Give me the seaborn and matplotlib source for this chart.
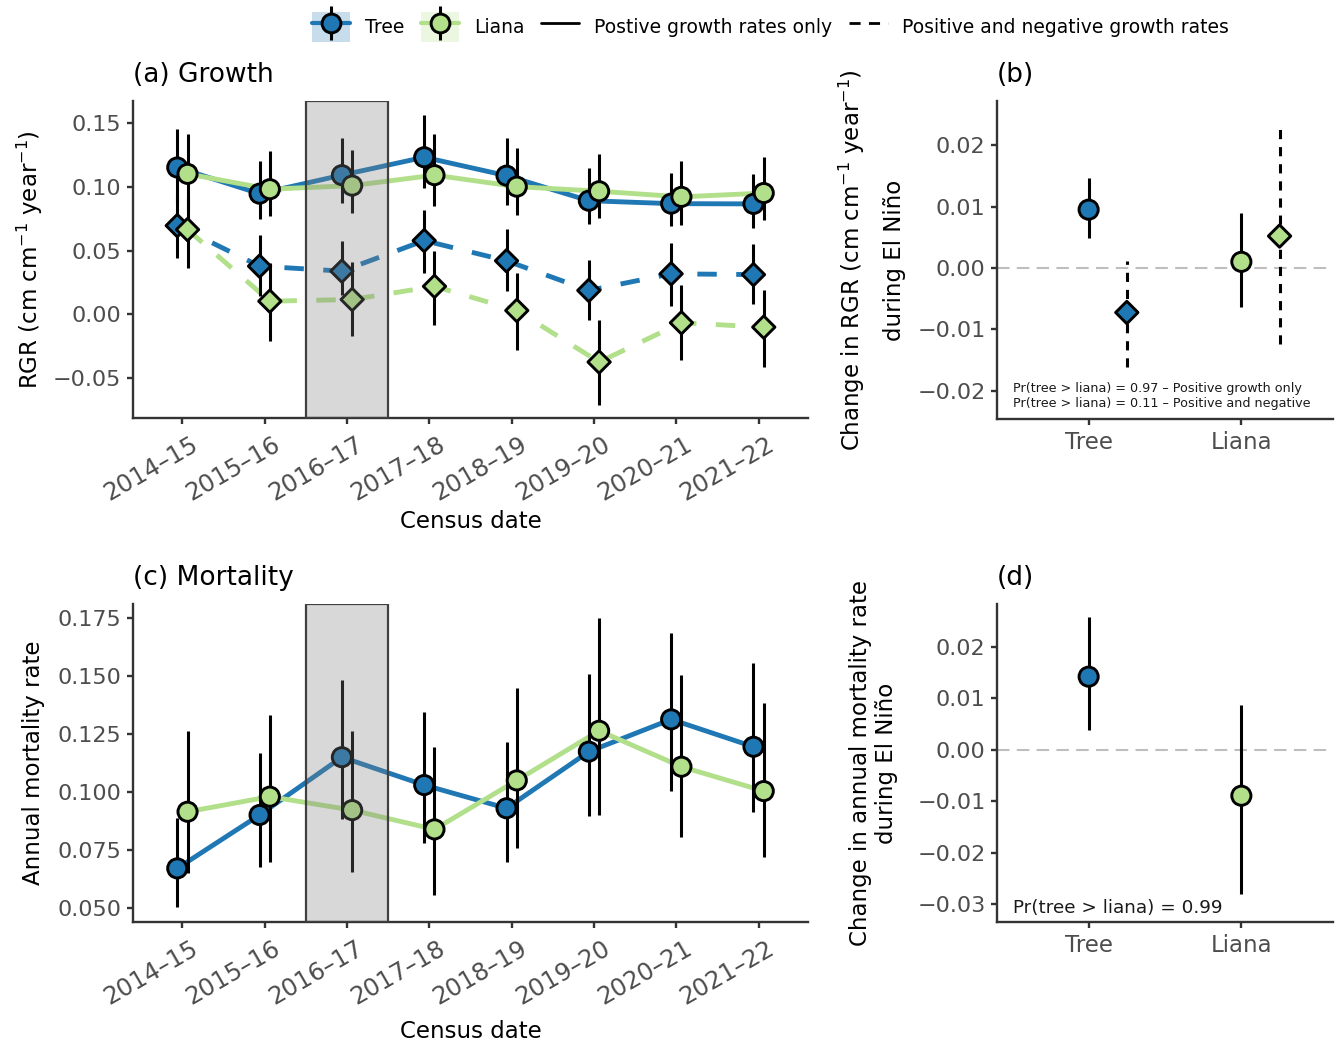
import numpy as np
import pandas as pd
import seaborn as sns
import matplotlib.pyplot as plt
from matplotlib.lines import Line2D
from matplotlib.patches import Patch
from matplotlib.legend_handler import HandlerTuple
from matplotlib.transforms import ScaledTranslation

census = ["2014–15", "2015–16", "2016–17", "2017–18", "2018–19", "2019–20", "2020–21", "2021–22"]
el_nino = "2016–17"
forms = ["Tree", "Liana"]

# (a) growth - positive growth rates only
tree_pos = [0.115, 0.0945, 0.109, 0.123, 0.1086, 0.089, 0.0867, 0.0865]
tree_pos_lo = [0.088, 0.075, 0.087, 0.099, 0.086, 0.071, 0.069, 0.068]
tree_pos_hi = [0.145, 0.120, 0.138, 0.156, 0.138, 0.1146, 0.111, 0.110]
liana_pos = [0.110, 0.098, 0.1008, 0.109, 0.100, 0.0964, 0.092, 0.095]
liana_pos_lo = [0.082, 0.077, 0.079, 0.085, 0.078, 0.0755, 0.070, 0.0737]
liana_pos_hi = [0.141, 0.128, 0.129, 0.141, 0.130, 0.1255, 0.120, 0.123]
# positive and negative growth rates
tree_all = [0.0695, 0.0378, 0.0339, 0.0578, 0.042, 0.0188, 0.0318, 0.0312]
tree_all_lo = [0.044, 0.0143, 0.0156, 0.0326, 0.018, -0.0044, 0.007, 0.0078]
tree_all_hi = [0.094, 0.0625, 0.0573, 0.082, 0.067, 0.043, 0.056, 0.0555]
liana_all = [0.0664, 0.0104, 0.0117, 0.022, 0.0031, -0.0372, -0.0065, -0.0099]
liana_all_lo = [0.0365, -0.0208, -0.017, -0.0083, -0.028, -0.0708, -0.0357, -0.0409]
liana_all_hi = [0.092, 0.040, 0.041, 0.050, 0.0326, -0.0044, 0.0234, 0.0195]

# (c) mortality
tree_mort = [0.0671, 0.0901, 0.115, 0.103, 0.093, 0.1174, 0.1313, 0.1195]
tree_mort_lo = [0.0503, 0.0675, 0.0882, 0.0779, 0.070, 0.0898, 0.1006, 0.0912]
tree_mort_hi = [0.0889, 0.117, 0.1483, 0.1346, 0.1217, 0.151, 0.1684, 0.1555]
liana_mort = [0.0915, 0.098, 0.0922, 0.0839, 0.105, 0.1264, 0.1109, 0.1004]
liana_mort_lo = [0.065, 0.070, 0.0657, 0.0556, 0.0757, 0.0901, 0.0805, 0.0721]
liana_mort_hi = [0.1264, 0.133, 0.1264, 0.1195, 0.1447, 0.1749, 0.1504, 0.1385]

# (b) change in RGR during El Nino
rgr_chg_pos = [0.0095, 0.0010]
rgr_chg_pos_lo = [0.0049, -0.0064]
rgr_chg_pos_hi = [0.0147, 0.0090]
rgr_chg_all = [-0.00725, 0.0052]
rgr_chg_all_lo = [-0.0161, -0.0124]
rgr_chg_all_hi = [0.0012, 0.0226]

# (d) change in mortality during El Nino
mort_chg = [0.0142, -0.0089]
mort_chg_lo = [0.0038, -0.0279]
mort_chg_hi = [0.0257, 0.0088]

pal = {"Tree": "#1F78B4", "Liana": "#B2DF8A"}
key_bg = {"Tree": "#C7DDEC", "Liana": "#ECF7E2"}
dodge = {"Tree": -0.0625, "Liana": 0.0625}
axc = "#333333"
tickc = "#4D4D4D"

sns.set_theme(style="ticks")
plt.rcParams["font.family"] = ["DejaVu Sans"]
plt.rcParams["mathtext.fontset"] = "dejavusans"
plt.rcParams["text.color"] = "black"

def series(vals, lo, hi, form, rates):
    idx = np.arange(len(census))
    return pd.DataFrame({"census": census, "form": form, "rates": rates,
                         "value": vals, "lo": lo, "hi": hi,
                         "x": idx + dodge[form]})

growth = pd.concat([
    series(tree_pos, tree_pos_lo, tree_pos_hi, "Tree", "pos"),
    series(liana_pos, liana_pos_lo, liana_pos_hi, "Liana", "pos"),
    series(tree_all, tree_all_lo, tree_all_hi, "Tree", "all"),
    series(liana_all, liana_all_lo, liana_all_hi, "Liana", "all"),
], ignore_index=True)
mort = pd.concat([
    series(tree_mort, tree_mort_lo, tree_mort_hi, "Tree", "pos"),
    series(liana_mort, liana_mort_lo, liana_mort_hi, "Liana", "pos"),
], ignore_index=True)

chg_rgr = pd.DataFrame({
    "form": forms * 2,
    "rates": ["pos", "pos", "all", "all"],
    "value": rgr_chg_pos + rgr_chg_all,
    "lo": rgr_chg_pos_lo + rgr_chg_all_lo,
    "hi": rgr_chg_pos_hi + rgr_chg_all_hi,
})
chg_rgr["x"] = [forms.index(f) + (0.25 if r == "all" else 0) for f, r in zip(chg_rgr.form, chg_rgr.rates)]
chg_mort = pd.DataFrame({"form": forms, "value": mort_chg, "lo": mort_chg_lo,
                         "hi": mort_chg_hi, "x": [0, 1]})

fig = plt.figure(figsize=(13.41, 10.44), dpi=100)
W, H = 1341, 1044
def add_ax(l, t, r, b):
    return fig.add_axes([l / W, 1 - b / H, (r - l) / W, (b - t) / H])

ax_a = add_ax(133, 101, 808, 418)
ax_b = add_ax(997, 101, 1333, 419)
ax_c = add_ax(133, 604, 808, 922)
ax_d = add_ax(997, 604, 1333, 922)

def style_ax(ax):
    sns.despine(ax=ax)
    for s in ["left", "bottom"]:
        ax.spines[s].set_color(axc)
        ax.spines[s].set_linewidth(1.7)
    ax.tick_params(colors=axc, labelcolor=tickc, width=1.7, length=4.3,
                   labelsize=16, pad=4)
    ax.grid(False)

def fmt(v, nd):
    return f"{v:.{nd}f}".replace("-", "−")

def time_panel(ax, df, ticks, nd, ylim, ylabel, title, xlab_y):
    sns.lineplot(data=df, x="x", y="value", hue="form", style="rates",
                 hue_order=forms, style_order=["pos", "all"], palette=pal,
                 dashes={"pos": "", "all": (4, 4)}, lw=3.5, estimator=None,
                 errorbar=None, sort=True, legend=False, ax=ax, zorder=2)
    ax.vlines(df.x, df.lo, df.hi, color="black", lw=2.2, zorder=3)
    pos = df[df.rates == "pos"]
    sns.scatterplot(data=pos, x="x", y="value", hue="form", palette=pal,
                    marker="o", s=190, edgecolor="black", linewidth=2.1,
                    legend=False, ax=ax, zorder=4)
    neg = df[df.rates == "all"]
    if len(neg):
        sns.scatterplot(data=neg, x="x", y="value", hue="form", palette=pal,
                        marker="D", s=130, edgecolor="black", linewidth=2.1,
                        legend=False, ax=ax, zorder=4)
    i = census.index(el_nino)
    ax.axvspan(i - 0.5, i + 0.5, facecolor=(0.5, 0.5, 0.5, 0.3),
               edgecolor="#404040", lw=1.6, zorder=6)
    ax.set_xlim(-0.6, len(census) - 0.4)
    ax.set_ylim(*ylim)
    ax.set_xticks(range(len(census)))
    ax.set_xticklabels(census, rotation=30, ha="right", va="top",
                       rotation_mode="anchor")
    ax.set_yticks(ticks)
    ax.set_yticklabels([fmt(v, nd) for v in ticks])
    style_ax(ax)
    ax.tick_params(axis="x", pad=6, labelsize=17.5)
    shift = ScaledTranslation(0.08, 0, fig.dpi_scale_trans)
    for lab in ax.get_xticklabels():
        lab.set_transform(lab.get_transform() + shift)
    ax.set_xlabel("Census date", fontsize=16.5, color="black")
    ax.xaxis.set_label_coords(0.5, xlab_y)
    ax.set_ylabel(ylabel, fontsize=16.5, color="black")
    ax.yaxis.set_label_coords(-0.13, 0.5)
    ax.set_title(title, loc="left", fontsize=19, pad=13.7, color="black")

time_panel(ax_a, growth, [-0.05, 0.0, 0.05, 0.10, 0.15], 2, (-0.081, 0.167),
           "RGR (cm cm$^{-1}$ year$^{-1}$)", "(a) Growth", -0.29)
time_panel(ax_c, mort, [0.050, 0.075, 0.100, 0.125, 0.150, 0.175], 3, (0.044, 0.181),
           "Annual mortality rate", "(c) Mortality", -0.307)

# (b)
ax = ax_b
ax.axhline(0, color="#BEBEBE", lw=1.5, ls=(0, (6, 3.5)), zorder=1)
p = chg_rgr[chg_rgr.rates == "pos"]
a = chg_rgr[chg_rgr.rates == "all"]
ax.vlines(p.x, p.lo, p.hi, color="black", lw=2.2, zorder=3)
ax.vlines(a.x, a.lo, a.hi, color="black", lw=2.2, linestyles=[(0, (3, 2.6))], zorder=3)
sns.scatterplot(data=p, x="x", y="value", hue="form", palette=pal, marker="o",
                s=190, edgecolor="black", linewidth=2.1, legend=False, ax=ax, zorder=4)
sns.scatterplot(data=a, x="x", y="value", hue="form", palette=pal, marker="D",
                s=130, edgecolor="black", linewidth=2.1, legend=False, ax=ax, zorder=4)
ax.set_xlim(-0.6, 1.6)
ax.set_ylim(-0.0246, 0.0272)
ax.set_xticks(range(len(forms)))
ax.set_xticklabels(forms)
ticks = [-0.02, -0.01, 0.0, 0.01, 0.02]
ax.set_yticks(ticks)
ax.set_yticklabels([fmt(v, 2) for v in ticks])
style_ax(ax)
ax.tick_params(axis="x", labelsize=16.5)
ax.set_xlabel("")
ax.set_ylabel("Change in RGR (cm cm$^{-1}$ year$^{-1}$)\nduring El Niño",
              fontsize=16.5, color="black", linespacing=1.9)
ax.yaxis.set_label_coords(-0.271, 0.5)
ax.set_title("(b)", loc="left", fontsize=19, pad=13.7, color="black")
ax.text(0.048, 0.073, "Pr(tree > liana) = 0.97 – Positive growth only\n"
        "Pr(tree > liana) = 0.11 – Positive and negative",
        transform=ax.transAxes, fontsize=9.2, va="center", ha="left",
        linespacing=1.2, color="#1A1A1A")

# (d)
ax = ax_d
ax.axhline(0, color="#BEBEBE", lw=1.5, ls=(0, (6, 3.5)), zorder=1)
ax.vlines(chg_mort.x, chg_mort.lo, chg_mort.hi, color="black", lw=2.2, zorder=3)
sns.scatterplot(data=chg_mort, x="x", y="value", hue="form", palette=pal, marker="o",
                s=190, edgecolor="black", linewidth=2.1, legend=False, ax=ax, zorder=4)
ax.set_xlim(-0.6, 1.6)
ax.set_ylim(-0.0334, 0.0283)
ax.set_xticks(range(len(forms)))
ax.set_xticklabels(forms)
ticks = [-0.03, -0.02, -0.01, 0.0, 0.01, 0.02]
ax.set_yticks(ticks)
ax.set_yticklabels([fmt(v, 2) for v in ticks])
style_ax(ax)
ax.tick_params(axis="x", labelsize=16.5)
ax.set_xlabel("")
ax.set_ylabel("Change in annual mortality rate\nduring El Niño",
              fontsize=16.5, color="black", linespacing=1.15)
ax.yaxis.set_label_coords(-0.295, 0.5)
ax.set_title("(d)", loc="left", fontsize=19, pad=13.7, color="black")
ax.text(0.048, 0.044, "Pr(tree > liana) = 0.99", transform=ax.transAxes,
        fontsize=13.2, va="center", ha="left", color="#1A1A1A")

# legend
def form_key(f):
    return (Patch(facecolor=key_bg[f], edgecolor="none"),
            Line2D([], [], color=pal[f], lw=3),
            Line2D([], [], ls="none", marker="|", ms=24, mew=2.2, color="black"),
            Line2D([], [], ls="none", marker="o", ms=13.5, mfc=pal[f], mec="black", mew=2.1))

handles = [form_key("Tree"), form_key("Liana"),
           Line2D([], [], color="black", lw=2),
           Line2D([], [], color="black", lw=2, ls=(0, (4, 3)))]
labels = ["Tree", "Liana", "Postive growth rates only", "Positive and negative growth rates"]
fig.legend(handles, labels, ncol=4, loc="center", bbox_to_anchor=(770.5 / W, 1 - 27 / H),
           frameon=False, fontsize=13.5, handlelength=2.03, handleheight=2.03,
           handletextpad=0.8, columnspacing=0.9,
           handler_map={tuple: HandlerTuple(ndivide=1, pad=0)})

fig.savefig("out.png", dpi=100)
